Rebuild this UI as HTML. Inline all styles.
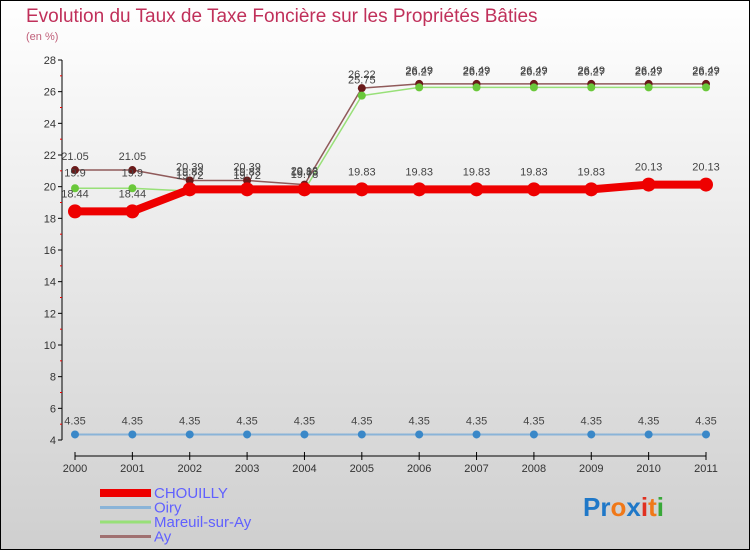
<!DOCTYPE html>
<html><head><meta charset="utf-8"><style>
body{margin:0;width:750px;height:550px;overflow:hidden;font-family:"Liberation Sans",sans-serif}
svg{display:block}
</style></head><body>
<svg id="c" width="750" height="550" xmlns="http://www.w3.org/2000/svg">
<defs><linearGradient id="bg" x1="0" y1="0" x2="0" y2="1"><stop offset="0" stop-color="#ffffff"/><stop offset="1" stop-color="#cfcfcf"/></linearGradient></defs>
<rect x="0.5" y="0.5" width="749" height="549" fill="url(#bg)" stroke="#000"/>
<text x="26" y="22" font-size="19" fill="#c0305a">Evolution du Taux de Taxe Foncière sur les Propriétés Bâties</text>
<text x="26" y="40" font-size="11" fill="#c0607a">(en %)</text>
<g id="axes"></g><g id="series"></g><g id="legend"></g>
<text x="583" y="516" font-size="26" font-weight="bold"><tspan fill="#1f78c8">Pr</tspan><tspan fill="#f07818">o</tspan><tspan fill="#1f78c8">x</tspan><tspan fill="#e03020">i</tspan><tspan fill="#f07818">t</tspan><tspan fill="#38a838">i</tspan></text>
</svg>
<script>
const years=[2000,2001,2002,2003,2004,2005,2006,2007,2008,2009,2010,2011];
const yTicks=[4,6,8,10,12,14,16,18,20,22,24,26,28];
const chouilly=[18.44,18.44,19.83,19.83,19.83,19.83,19.83,19.83,19.83,19.83,20.13,20.13];
const oiry=[4.35,4.35,4.35,4.35,4.35,4.35,4.35,4.35,4.35,4.35,4.35,4.35];
const mareuil=[19.9,19.9,19.72,19.72,19.78,25.75,26.27,26.27,26.27,26.27,26.27,26.27];
const ay=[21.05,21.05,20.39,20.39,20.13,26.22,26.49,26.49,26.49,26.49,26.49,26.49];
const NS="http://www.w3.org/2000/svg";
const X=i=>75+i*(706-75)/(years.length-1);
const Y=v=>440-(v-4)*(380/24);
function mk(p,t,a){const e=document.createElementNS(NS,t);for(const k in a)e.setAttribute(k,a[k]);p.appendChild(e);return e;}
const ax=document.getElementById('axes');
mk(ax,'line',{x1:62,y1:Y(28),x2:62,y2:Y(4),stroke:'#000'});
mk(ax,'line',{x1:75,y1:456,x2:706,y2:456,stroke:'#000'});
yTicks.forEach(v=>{
 mk(ax,'line',{x1:58,y1:Y(v),x2:62,y2:Y(v),stroke:'#000'});
 mk(ax,'line',{x1:60,y1:Y(v+1),x2:62,y2:Y(v+1),stroke:'#e00'}).setAttribute('visibility',v<28?'visible':'hidden');
 const t=mk(ax,'text',{x:56,y:Y(v)+4,'text-anchor':'end','font-size':'11',fill:'#333'});
 t.textContent=v;
 
 
});
years.forEach((y,i)=>{
 mk(ax,'line',{x1:X(i),y1:452,x2:X(i),y2:460,stroke:'#000'});
 const t=mk(ax,'text',{x:X(i),y:472,'text-anchor':'middle','font-size':'11',fill:'#333'});
 t.textContent=y;
 
 
});
const sg=document.getElementById('series');
function series(name,vals,color,w,r,pc,lblOff){
 const g=mk(sg,'g',{});
 
 
 mk(g,'polyline',{points:vals.map((v,i)=>X(i)+','+Y(v)).join(' '),fill:'none',stroke:color,'stroke-width':w,'stroke-linejoin':'round'});
 vals.forEach((v,i)=>{
  const c=mk(g,'circle',{cx:X(i),cy:Y(v),r:r,fill:pc});
  
  
  const t=mk(g,'text',{x:X(i),y:Y(v)+lblOff,'text-anchor':'middle','font-size':'11',fill:'#444'});
  t.textContent=v;
  
  
 });
}
series('oiry',oiry,'#8ab4d8',2,4,'#3a88c8',-10);
series('ay',ay,'#905a5a',1.5,4,'#6a1a1a',-10);
series('mareuil',mareuil,'#98e078',1.5,4,'#6ac83a',-12);
series('chouilly',chouilly,'#ee0000',8,7,'#ee0000',-14);
const lg=document.getElementById('legend');
const names=['CHOUILLY','Oiry','Mareuil-sur-Ay','Ay'];
const cols=['#ee0000','#8ab4d8','#98e078','#a07070'];
const wid=[8,3,3,3];
names.forEach((n,i)=>{
 const y=493+i*14.5;
 const l=mk(lg,'line',{x1:100,y1:y,x2:151,y2:y,stroke:cols[i],'stroke-width':wid[i]});
 
 
 const t=mk(lg,'text',{x:154,y:y+5,'font-size':'15',fill:'#6060ff'});
 t.textContent=n;
 
 
});
</script>
</body></html>
